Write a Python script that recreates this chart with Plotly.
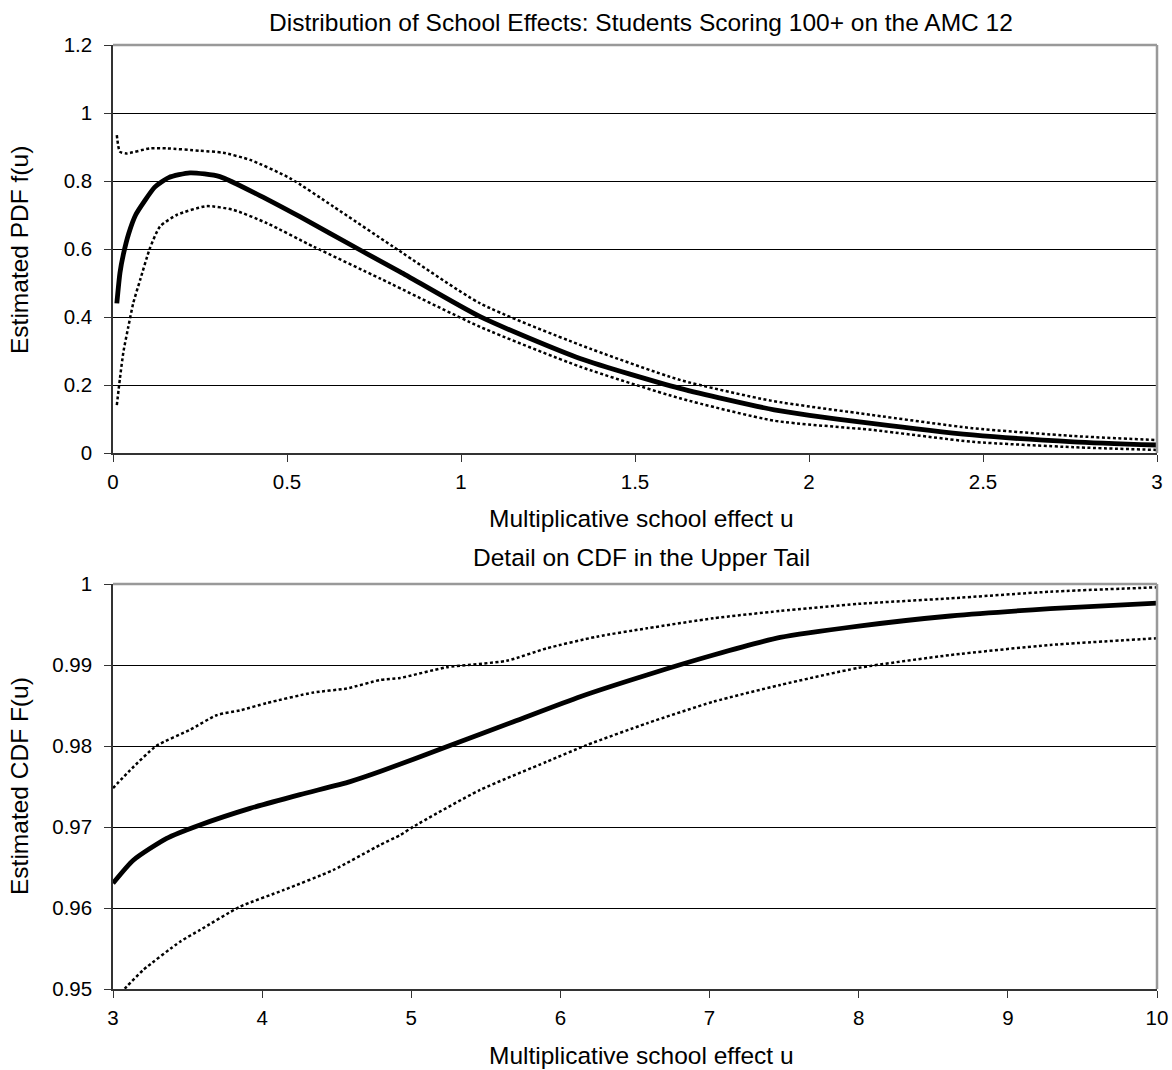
import plotly.graph_objects as go

# ---------------- data: top chart (PDF) ----------------
pdf_mid_u = [0.011, 0.02, 0.03, 0.045, 0.065, 0.09, 0.12, 0.16, 0.221, 0.307, 0.422,
             0.537, 0.71, 0.825, 1.055, 1.342, 1.629, 1.9, 2.18, 2.47, 2.76, 3.0]
pdf_mid = [0.44, 0.53, 0.585, 0.645, 0.70, 0.74, 0.782, 0.810, 0.824, 0.813, 0.757,
           0.695, 0.597, 0.533, 0.401, 0.278, 0.19, 0.127, 0.087, 0.053, 0.033, 0.0235]

pdf_hi_u = [0.011, 0.02, 0.039, 0.106, 0.154, 0.25, 0.317, 0.394, 0.509, 0.633, 0.805,
            1.055, 1.342, 1.629, 1.89, 2.18, 2.47, 2.76, 3.0]
pdf_hi = [0.935, 0.886, 0.881, 0.896, 0.896, 0.889, 0.883, 0.862, 0.808, 0.725, 0.607,
          0.44, 0.318, 0.215, 0.154, 0.112, 0.073, 0.05, 0.038]

pdf_lo_u = [0.011, 0.02, 0.03, 0.044, 0.058, 0.078, 0.106, 0.135, 0.183, 0.269, 0.346, 0.442,
            0.576, 0.77, 1.055, 1.342, 1.629, 1.9, 2.18, 2.47, 2.76, 3.0]
pdf_lo = [0.141, 0.22, 0.298, 0.371, 0.44, 0.509, 0.602, 0.666, 0.7, 0.726, 0.715, 0.676,
          0.607, 0.512, 0.371, 0.254, 0.161, 0.095, 0.068, 0.033, 0.017, 0.009]

# ---------------- data: bottom chart (CDF upper tail) ----------------
cdf_mid_u = [3.0, 3.136, 3.36, 3.583, 3.919, 4.254, 4.59, 4.8, 5.237, 5.685, 6.132, 6.58,
             7.026, 7.473, 8.0, 8.614, 9.284, 10.0]
cdf_mid = [0.96305, 0.9659, 0.9686, 0.97025, 0.9723, 0.9740, 0.9756, 0.9769, 0.97991, 0.983,
           0.98609, 0.98877, 0.99123, 0.9934, 0.9948, 0.99605, 0.99695, 0.99765]

cdf_hi_u = [3.0, 3.114, 3.29, 3.516, 3.695, 3.852, 4.03, 4.343, 4.567, 4.79, 4.925, 5.237,
            5.64, 5.908, 6.244, 6.58, 7.026, 7.473, 8.0, 8.614, 9.284, 10.0]
cdf_hi = [0.9748, 0.9770, 0.9800, 0.9820, 0.9838, 0.9844, 0.9853, 0.9866, 0.9871, 0.98815,
          0.9884, 0.98972, 0.99053, 0.99206, 0.9935, 0.99453, 0.99577, 0.99667, 0.99755,
          0.99823, 0.99905, 0.99959]

cdf_lo_u = [3.0, 3.092, 3.203, 3.45, 3.583, 3.852, 4.142, 4.478, 4.79, 4.925, 5.014, 5.461,
            5.908, 6.177, 6.58, 7.026, 7.473, 8.0, 8.614, 9.284, 10.0]
cdf_lo = [0.9486, 0.9503, 0.95235, 0.95584, 0.95728, 0.96016, 0.9622, 0.9647, 0.96778,
          0.9690, 0.97004, 0.97457, 0.97806, 0.98012, 0.9828, 0.98547, 0.98753, 0.98965,
          0.99123, 0.99247, 0.9933]

top_yticks = [0, 0.2, 0.4, 0.6, 0.8, 1, 1.2]
top_xticks = [0, 0.5, 1, 1.5, 2, 2.5, 3]
bot_yticks = [0.95, 0.96, 0.97, 0.98, 0.99, 1]
bot_xticks = [3, 4, 5, 6, 7, 8, 9, 10]

W, H = 1172, 1070
FONT = "Liberation Sans, Arial, sans-serif"

fig = go.Figure()

solid = dict(color="black", width=4.8, shape="spline", smoothing=0.6)
dotted = dict(color="black", width=2.5, dash="3px,2.5px", shape="spline", smoothing=0.6)

fig.add_trace(go.Scatter(x=pdf_hi_u, y=pdf_hi, mode="lines", line=dotted, xaxis="x", yaxis="y"))
fig.add_trace(go.Scatter(x=pdf_lo_u, y=pdf_lo, mode="lines", line=dotted, xaxis="x", yaxis="y"))
fig.add_trace(go.Scatter(x=pdf_mid_u, y=pdf_mid, mode="lines", line=solid, xaxis="x", yaxis="y"))

fig.add_trace(go.Scatter(x=cdf_hi_u, y=cdf_hi, mode="lines", line=dotted, xaxis="x2", yaxis="y2"))
fig.add_trace(go.Scatter(x=cdf_lo_u, y=cdf_lo, mode="lines", line=dotted, xaxis="x2", yaxis="y2"))
fig.add_trace(go.Scatter(x=cdf_mid_u, y=cdf_mid, mode="lines", line=solid, xaxis="x2", yaxis="y2"))

def px_x(x):
    return x / W

def px_y(y):
    return 1 - y / H

xdom = [px_x(113), px_x(1157)]
top_dom = [px_y(453), px_y(45)]
bot_dom = [px_y(989), px_y(584)]

axis_common = dict(
    showline=True, linecolor="#333333", linewidth=1.5,
    ticks="outside", ticklen=7, tickcolor="#333333", tickwidth=1,
    tickfont=dict(family=FONT, size=20.5, color="black"),
    zeroline=False, automargin=False,
)

fig.update_layout(
    width=W, height=H,
    margin=dict(l=0, r=0, t=0, b=0, autoexpand=False),
    paper_bgcolor="white", plot_bgcolor="white",
    showlegend=False,
    font=dict(family=FONT, color="black"),
    xaxis=dict(domain=xdom, anchor="y", range=[0, 3], tickvals=top_xticks,
               ticktext=[f"{v:g}" for v in top_xticks], showgrid=False,
               ticklabelstandoff=3, **axis_common),
    yaxis=dict(domain=top_dom, anchor="x", range=[0, 1.2], tickvals=top_yticks,
               ticktext=[f"{v:g}" for v in top_yticks], showgrid=True, gridcolor="black",
               gridwidth=1, ticklabelstandoff=8, **axis_common),
    xaxis2=dict(domain=xdom, anchor="y2", range=[3, 10], tickvals=bot_xticks,
                ticktext=[f"{v:g}" for v in bot_xticks], showgrid=False,
                ticklabelstandoff=3, **axis_common),
    yaxis2=dict(domain=bot_dom, anchor="x2", range=[0.95, 1], tickvals=bot_yticks,
                ticktext=[f"{v:g}" for v in bot_yticks], showgrid=True, gridcolor="black",
                gridwidth=1, ticklabelstandoff=8, **axis_common),
)

# gray plot-area borders (top & right), Excel style
for xr, yr in (("x domain", "y domain"), ("x2 domain", "y2 domain")):
    fig.add_shape(type="line", xref=xr, yref=yr, x0=0, x1=1, y0=1, y1=1,
                  line=dict(color="#999999", width=2.5), layer="above")
    fig.add_shape(type="line", xref=xr, yref=yr, x0=1, x1=1, y0=0, y1=1,
                  line=dict(color="#999999", width=2.5), layer="above")

def ann(text, x, y, size, angle=0):
    fig.add_annotation(text=text, x=px_x(x), y=px_y(y), xref="paper", yref="paper",
                       showarrow=False, textangle=angle,
                       font=dict(family=FONT, size=size, color="black"),
                       xanchor="center", yanchor="middle")

ann("Distribution of School Effects: Students Scoring 100+ on the AMC 12", 641, 22, 24.5)
ann("Multiplicative school effect u", 641, 518, 24.5)
ann("Estimated PDF f(u)", 19, 250, 24.5, -90)
ann("Detail on CDF in the Upper Tail", 641, 557, 24.5)
ann("Multiplicative school effect u", 641, 1055, 24.5)
ann("Estimated CDF F(u)", 19, 786, 24.5, -90)

fig.write_html(
    "out.html",
    config={"displayModeBar": False},
    post_script="document.body.style.margin='0px';document.body.style.overflow='hidden';",
)
